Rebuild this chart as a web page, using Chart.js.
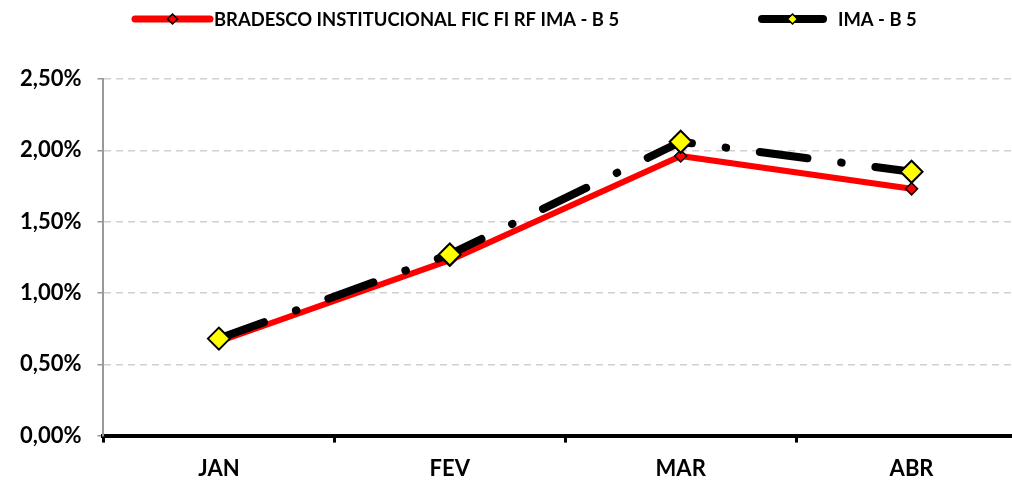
<!DOCTYPE html>
<html>
<head>
<meta charset="utf-8">
<script src="https://cdn.jsdelivr.net/npm/chart.js@4"></script>
<style>
html,body{margin:0;padding:0;background:#fff;overflow:hidden;width:1012px;height:480px;}
#wrap{position:absolute;left:0;top:0;width:1040px;height:480px;}
</style>
</head>
<body>
<div id="wrap"><canvas id="c" width="1040" height="480"></canvas></div>
<script>
const categories = ['JAN', 'FEV', 'MAR', 'ABR'];
const fundName = 'BRADESCO INSTITUCIONAL FIC FI RF IMA - B 5';
const fundValues = [0.66, 1.23, 1.96, 1.73];
const benchName = 'IMA - B 5';
const benchValues = [0.68, 1.27, 2.06, 1.85];
const yTicks = [0, 0.5, 1.0, 1.5, 2.0, 2.5];

const FONT = 'Lato, "Liberation Sans", sans-serif';

function diamond(ctx, x, y, r, fill, stroke, lw) {
  ctx.beginPath();
  ctx.moveTo(x, y - r); ctx.lineTo(x + r, y); ctx.lineTo(x, y + r); ctx.lineTo(x - r, y); ctx.closePath();
  ctx.fillStyle = fill; ctx.fill();
  ctx.lineWidth = lw; ctx.strokeStyle = stroke; ctx.stroke();
}

const legendPlugin = {
  id: 'customLegend',
  afterDraw(chart) {
    const ctx = chart.ctx;
    const items = [
      {x1: 135, x2: 210, tx: 214, color: '#ff0000', lw: 7, mfill: '#ff0000', label: chart.data.datasets[0].label},
      {x1: 762, x2: 823, tx: 838, color: '#000000', lw: 8, mfill: '#ffff00', label: chart.data.datasets[1].label}
    ];
    const y = 19;
    ctx.save();
    items.forEach(it => {
      ctx.lineCap = 'round';
      ctx.beginPath(); ctx.moveTo(it.x1, y); ctx.lineTo(it.x2, y);
      ctx.lineWidth = it.lw; ctx.strokeStyle = it.color; ctx.stroke();
      diamond(ctx, (it.x1 + it.x2) / 2, y, 5, it.mfill, '#000', 1.5);
      ctx.font = 'bold 18.4px ' + FONT;
      ctx.fillStyle = '#000'; ctx.textBaseline = 'middle'; ctx.textAlign = 'left';
      ctx.fillText(it.label, it.tx, y + 1);
    });
    ctx.restore();
  }
};

new Chart(document.getElementById('c'), {
  type: 'line',
  data: {
    labels: categories,
    datasets: [
      {
        label: fundName, data: fundValues, order: 2,
        borderColor: '#ff0000', borderWidth: 6, borderCapStyle: 'round', borderJoinStyle: 'round',
        pointStyle: 'rectRot', pointRadius: 6, pointBackgroundColor: '#ff0000',
        pointBorderColor: '#000', pointBorderWidth: 1.5, tension: 0
      },
      {
        label: benchName, data: benchValues, order: 1,
        borderColor: '#000000', borderWidth: 8, borderCapStyle: 'round', borderJoinStyle: 'round',
        borderDash: [48, 34, 0.5, 34],
        pointStyle: 'rectRot', pointRadius: 11, pointBackgroundColor: '#ffff00',
        pointBorderColor: '#000', pointBorderWidth: 2, tension: 0
      }
    ]
  },
  options: {
    responsive: false,
    animation: false,
    devicePixelRatio: 1,
    layout: {padding: {top: 79, left: 4, right: 3, bottom: -15}},
    plugins: {legend: {display: false}, tooltip: {enabled: false}},
    scales: {
      x: {
        offset: true,
        grid: {offset: true, drawOnChartArea: false, drawTicks: true, tickLength: 7, tickWidth: 3, tickColor: '#000', color: '#000'},
        border: {display: true, color: '#000', width: 4},
        ticks: {color: '#000', padding: 13, font: {family: FONT, size: 22, weight: 'bold'}}
      },
      y: {
        min: 0, max: 2.5,
        afterBuildTicks(scale) { scale.ticks = yTicks.map(v => ({value: v})); },
        grid: {color: '#d0d0d0', lineWidth: 1.5, drawTicks: true, tickLength: 6, tickColor: '#999', tickWidth: 1.5},
        border: {display: true, color: '#999', width: 2, dash: [7, 5]},
        ticks: {color: '#000', padding: 16, font: {family: FONT, size: 22, weight: 'bold'},
          callback: v => v.toFixed(2).replace('.', ',') + '%'}
      }
    }
  },
  plugins: [legendPlugin]
});
</script>
</body>
</html>
